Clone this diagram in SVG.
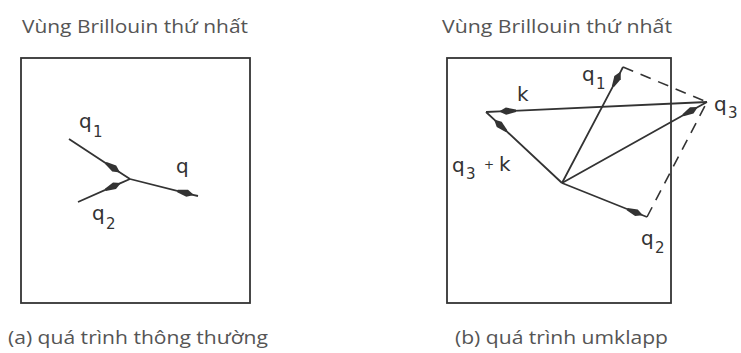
<svg xmlns="http://www.w3.org/2000/svg" width="741" height="353" viewBox="0 0 741 353">
<style>
.t{font-family:"Open Sans","Noto Sans","Liberation Sans",sans-serif;font-size:19px;fill:#555}
.l{font-family:"DejaVu Sans","Liberation Sans",sans-serif;fill:#333}
.q{font-size:20px}
.s{font-size:15px}
.p{font-size:12px}
.box{fill:none;stroke:#333;stroke-width:1.8}
.v{fill:none;stroke:#333;stroke-width:1.8;marker-mid:url(#ah)}
.d{fill:none;stroke:#333;stroke-width:1.6;stroke-dasharray:11 8}
</style>
<defs>
<marker id="ah" markerUnits="userSpaceOnUse" markerWidth="22" markerHeight="12" viewBox="-18 -6 22 12" refX="0" refY="0" orient="auto">
<path d="M1,0 L-6,-3.6 L-16,-1.2 L-16,1.2 L-6,3.6 Z" fill="#333"/>
</marker>
</defs>
<rect width="741" height="353" fill="#fff"/>
<g id="panel-a">
<text class="t" x="22" y="33" textLength="226" lengthAdjust="spacingAndGlyphs">Vùng Brillouin thứ nhất</text>
<rect class="box" x="21" y="58" width="229" height="245"/>
<text class="t" x="8" y="344" textLength="260" lengthAdjust="spacingAndGlyphs">(a) quá trình thông thường</text>
</g>
<g id="panel-b">
<text class="t" x="442" y="33" textLength="230" lengthAdjust="spacingAndGlyphs">Vùng Brillouin thứ nhất</text>
<rect class="box" x="447" y="58" width="224" height="245"/>
<text class="t" x="455" y="344" textLength="213" lengthAdjust="spacingAndGlyphs">(b) quá trình umklapp</text>
</g>
<g id="connectors">
<path class="v" d="M69,139 L119.2,171.9 L130,179"/>
<path class="v" d="M78,202 L120,183.4 L130,179"/>
<path class="v" d="M130,179 L193,194.8 L198,196"/>
<path class="v" d="M562,183 L620.3,72.3 L623,67"/>
<path class="v" d="M562,183 L697,107.5 L707,102"/>
<path class="v" d="M562,183 L642,215 L647,217"/>
<path class="v" d="M707,102 L500,111.4 L486,112"/>
<path class="v" d="M562,183 L494.8,120.2 L486,112"/>
<path class="d" d="M623,67 L707,102"/>
<path class="d" d="M647,217 L707,102"/>
</g>
<g id="labels">
<text class="l q" x="79" y="128">q</text><text class="l s" x="93" y="137">1</text>
<text class="l q" x="176" y="173">q</text>
<text class="l q" x="92" y="220">q</text><text class="l s" x="106" y="229">2</text>
<text class="l q" x="582" y="81">q</text><text class="l s" x="596" y="89">1</text>
<text class="l q" x="517" y="101">k</text>
<text class="l q" x="714" y="111">q</text><text class="l s" x="728" y="118">3</text>
<text class="l q" x="452" y="172">q</text><text class="l s" x="466" y="179">3</text>
<text class="l p" x="484" y="169">+</text>
<text class="l q" x="499" y="171">k</text>
<text class="l q" x="641" y="245">q</text><text class="l s" x="655" y="253">2</text>
</g>
</svg>
